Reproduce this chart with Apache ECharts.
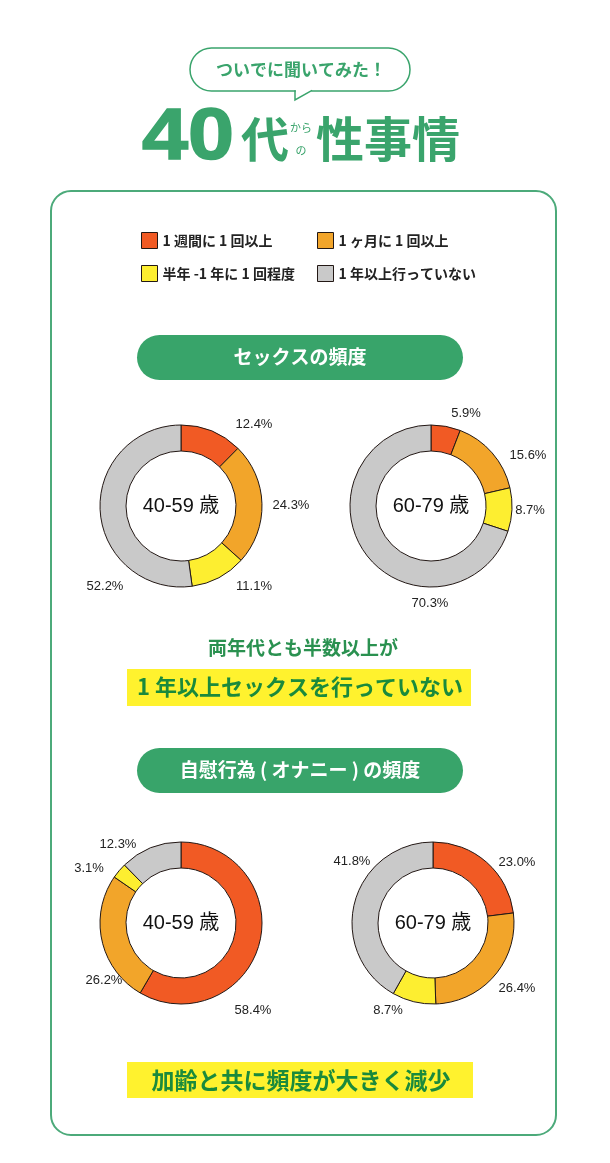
<!DOCTYPE html>
<html><head><meta charset="utf-8">
<script src="https://cdn.jsdelivr.net/npm/echarts@6/dist/echarts.min.js"></script>
<style>html,body{margin:0;padding:0;background:#fff}#c{width:610px;height:1163px}</style>
</head><body><div id="c"></div>
<script>
// ---- data ----
const categories = ['1 週間に 1 回以上', '1 ヶ月に 1 回以上', '半年 -1 年に 1 回程度', '1 年以上行っていない'];
const sex4059 = [12.4, 24.3, 11.1, 52.2];
const sex6079 = [5.9, 15.6, 8.7, 70.3];
const mast4059 = [58.4, 26.2, 3.1, 12.3];
const mast6079 = [23.0, 26.4, 8.7, 41.8];
const ageLabels = ['40-59 歳', '60-79 歳'];
const sectionTitles = ['セックスの頻度', '自慰行為 ( オナニー ) の頻度'];
const noteLead = '両年代とも半数以上が';
const noteTexts = ['1 年以上セックスを行っていない', '加齢と共に頻度が大きく減少'];

// ---- layout / style ----
const colors = ['#f15a24', '#f2a52a', '#fdee30', '#c9c9c9'];
const green = '#3aa46c';
const JP = '"Noto Sans CJK JP", "Noto Sans", sans-serif';
const LAT = '"Liberation Sans", "Noto Sans CJK JP", sans-serif';
const pies = [
  { data: sex4059, center: [181, 506], off: [[73,-82],[110,-1],[73,80],[-76,80]], age: 0 },
  { data: sex6079, center: [431, 506], off: [[35,-93],[97,-51],[99,4],[-1,97]], age: 1 },
  { data: mast4059, center: [181, 923], off: [[72,87],[-77,57],[-92,-55],[-63,-79]], age: 0 },
  { data: mast6079, center: [433, 923], off: [[84,-61],[84,65],[-45,87],[-81,-62]], age: 1 }
];

const chart = echarts.init(document.getElementById('c'), null, { renderer: 'canvas' });

const legendPos = [[141, 232], [317, 232], [141, 265], [317, 265]];
const legends = categories.map((c, i) => ({
  data: [c], left: legendPos[i][0], top: legendPos[i][1], orient: 'horizontal', padding: 0,
  icon: 'rect', itemWidth: 16, itemHeight: 16, itemGap: 6,
  itemStyle: { borderColor: '#231815', borderWidth: 1 },
  textStyle: { fontSize: 14, color: '#222', fontFamily: JP, fontWeight: 'bold' },
  selectedMode: false
}));

const series = pies.map(p => ({
  type: 'pie',
  center: p.center,
  radius: [55, 81],
  startAngle: 90,
  clockwise: true,
  avoidLabelOverlap: false,
  silent: true,
  itemStyle: { borderColor: '#231815', borderWidth: 1 },
  label: {
    show: true, position: 'outside', fontSize: 13, color: '#222', fontFamily: LAT,
    formatter: prm => prm.value.toFixed(1) + '%'
  },
  labelLine: { show: false },
  labelLayout: prm => {
    const o = p.off[prm.dataIndex];
    return { x: p.center[0] + o[0], y: p.center[1] + o[1], align: 'center', verticalAlign: 'middle' };
  },
  data: categories.map((c, i) => ({ name: c, value: p.data[i], itemStyle: { color: colors[i] } }))
}));

const graphic = [
  { type: 'rect', shape: { x: 51, y: 191, width: 505, height: 944, r: 20 }, style: { fill: '#fff', stroke: '#4caa7a', lineWidth: 2 }, z: -1 },
  // speech bubble
  { type: 'rect', shape: { x: 190, y: 48, width: 220, height: 43, r: 21.5 }, style: { fill: '#fff', stroke: green, lineWidth: 1.5 } },
  { type: 'rect', shape: { x: 295.8, y: 89, width: 15.5, height: 4 }, style: { fill: '#fff' } },
  { type: 'polyline', shape: { points: [[295, 90.3], [295, 100], [312, 90.3]] }, style: { stroke: green, lineWidth: 1.5, fill: null } },
  { type: 'text', x: 301, y: 70, style: { text: 'ついでに聞いてみた！', fill: green, font: 'bold 17px ' + JP, textAlign: 'center', textVerticalAlign: 'middle' } },
  // main title
  { type: 'text', x: 142, y: 139, scaleX: 1.15, originX: 0, originY: 0, style: { text: '40', fill: green, stroke: green, lineWidth: 1.5, font: 'bold 72px ' + LAT, textAlign: 'left', textVerticalAlign: 'middle' } },
  { type: 'text', x: 241, y: 139, style: { text: '代', fill: green, font: 'bold 48px ' + JP, textAlign: 'left', textVerticalAlign: 'middle' } },
  { type: 'text', x: 301, y: 128, style: { text: 'から', fill: green, font: '11px ' + JP, textAlign: 'center', textVerticalAlign: 'middle' } },
  { type: 'text', x: 301, y: 151, style: { text: 'の', fill: green, font: '11px ' + JP, textAlign: 'center', textVerticalAlign: 'middle' } },
  { type: 'text', x: 316, y: 139, style: { text: '性事情', fill: green, font: 'bold 48px ' + JP, textAlign: 'left', textVerticalAlign: 'middle' } },
  // section pills
  { type: 'rect', shape: { x: 137, y: 335, width: 326, height: 45, r: 22.5 }, style: { fill: '#38a46a' } },
  { type: 'text', x: 300, y: 357, style: { text: sectionTitles[0], fill: '#fff', font: 'bold 19px ' + JP, textAlign: 'center', textVerticalAlign: 'middle' } },
  { type: 'rect', shape: { x: 137, y: 748, width: 326, height: 45, r: 22.5 }, style: { fill: '#38a46a' } },
  { type: 'text', x: 300, y: 770, style: { text: sectionTitles[1], fill: '#fff', font: 'bold 19px ' + JP, textAlign: 'center', textVerticalAlign: 'middle' } },
  // notes
  { type: 'text', x: 303, y: 648, style: { text: noteLead, fill: '#2a9150', font: 'bold 19px ' + JP, textAlign: 'center', textVerticalAlign: 'middle' } },
  { type: 'rect', shape: { x: 127, y: 669, width: 344, height: 37 }, style: { fill: '#fff22e' } },
  { type: 'text', x: 300, y: 687, style: { text: noteTexts[0], fill: '#1a8a3c', font: 'bold 22px ' + JP, textAlign: 'center', textVerticalAlign: 'middle' } },
  { type: 'rect', shape: { x: 127, y: 1062, width: 346, height: 36 }, style: { fill: '#fff22e' } },
  { type: 'text', x: 301, y: 1080, style: { text: noteTexts[1], fill: '#1a8a3c', font: 'bold 23px ' + JP, textAlign: 'center', textVerticalAlign: 'middle' } }
];
pies.forEach(p => {
  graphic.push({ type: 'text', x: p.center[0], y: p.center[1], z: 10,
    style: { text: ageLabels[p.age], fill: '#111', font: '20px ' + LAT, textAlign: 'center', textVerticalAlign: 'middle' } });
});

chart.setOption({
  backgroundColor: '#fff',
  animation: false,
  legend: legends,
  series: series,
  graphic: { elements: graphic }
});
</script>
</body></html>
